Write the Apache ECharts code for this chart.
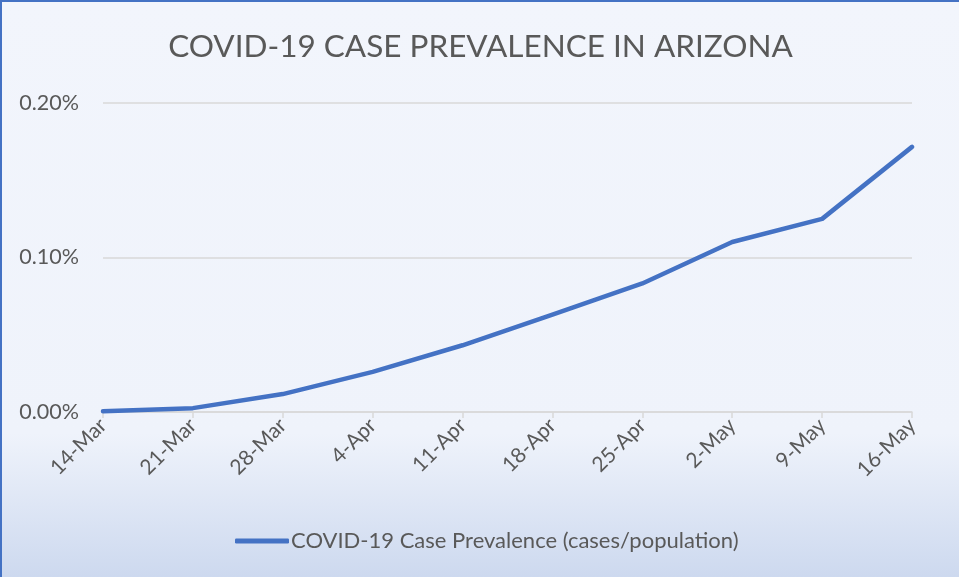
<!DOCTYPE html>
<html>
<head>
    <meta charset="utf-8">
    <title>COVID-19 Case Prevalence in Arizona</title>
    <script src="https://cdn.jsdelivr.net/npm/echarts@6/dist/echarts.min.js"></script>
    <style>
        html, body { margin: 0; padding: 0; }
        #frame {
            width: 957px;
            height: 575px;
            border-left: 2px solid #4472C4;
            border-top: 2px solid #4472C4;
        }
        #chart { width: 957px; height: 575px; }
    </style>
</head>
<body>
<div id="frame"><div id="chart"></div></div>
<script>
    // weekly dates
    var dates = ['14-Mar', '21-Mar', '28-Mar', '4-Apr', '11-Apr', '18-Apr', '25-Apr', '2-May', '9-May', '16-May'];
    // prevalence in percent (cases / population * 100)
    var prevalence = [0.0005, 0.0025, 0.0116, 0.026, 0.0432, 0.063, 0.0832, 0.110, 0.125, 0.1716];
    var yTicks = [0, 0.1, 0.2];
    var seriesName = 'COVID-19 Case Prevalence (cases/population)';

    var font = 'Lato, "Open Sans", sans-serif';
    var chart = echarts.init(document.getElementById('chart'));
    var option = {
        backgroundColor: {
            type: 'linear', x: 0, y: 0, x2: 0, y2: 1,
            colorStops: [
                {offset: 0, color: '#F2F5FC'},
                {offset: 0.75, color: '#EFF3FB'},
                {offset: 1, color: '#CDD9EF'}
            ]
        },
        title: {
            text: 'COVID-19 CASE PREVALENCE IN ARIZONA',
            left: 'center',
            top: 24,
            textStyle: {fontFamily: font, fontSize: 31.5, fontWeight: 'normal', color: '#595959'}
        },
        legend: {
            data: [seriesName],
            left: 228,
            top: 523,
            icon: 'roundRect',
            itemWidth: 54,
            itemHeight: 5,
            itemGap: 4,
            textStyle: {fontFamily: font, fontSize: 22, color: '#595959', padding: [0, 0, 0, -3]}
        },
        grid: {left: 101, right: 47, top: 101, bottom: 165},
        xAxis: {
            type: 'category',
            boundaryGap: false,
            data: dates,
            axisLine: {lineStyle: {color: '#D9D9D9', width: 1.5}},
            axisTick: {show: true, length: 6, alignWithLabel: true, lineStyle: {color: '#D9D9D9', width: 1.5}},
            axisLabel: {
                rotate: 45,
                margin: 10,
                interval: 0,
                fontFamily: font,
                fontSize: 21,
                color: '#595959'
            }
        },
        yAxis: {
            type: 'value',
            min: yTicks[0],
            max: yTicks[yTicks.length - 1],
            interval: yTicks[1] - yTicks[0],
            axisLine: {show: false},
            axisTick: {show: false},
            axisLabel: {
                margin: 24,
                fontFamily: font,
                fontSize: 21.5,
                color: '#595959',
                formatter: function (v) { return v.toFixed(2) + '%'; }
            },
            splitLine: {lineStyle: {color: '#D9D9D9', width: 1.5}}
        },
        series: [{
            name: seriesName,
            type: 'line',
            data: prevalence,
            symbol: 'none',
            smooth: false,
            lineStyle: {color: '#4472C4', width: 4.5, cap: 'round', join: 'round'},
            itemStyle: {color: '#4472C4'}
        }]
    };
    chart.setOption(option);
</script>
</body>
</html>
